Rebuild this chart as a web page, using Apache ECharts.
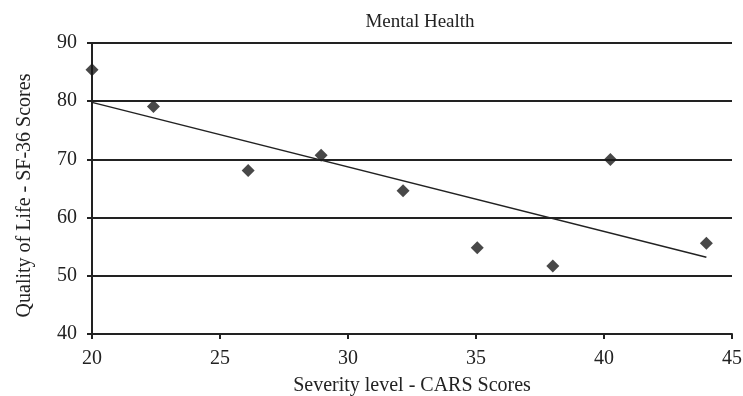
<!DOCTYPE html>
<html><head><meta charset="utf-8">
<script src="https://cdn.jsdelivr.net/npm/echarts@6/dist/echarts.min.js"></script>
<style>html,body{margin:0;padding:0;background:#fff}#c{width:743px;height:396px}</style>
</head><body><div id="c"></div>
<script>
var cars = [20.0, 22.4, 26.1, 28.95, 32.15, 35.05, 38.0, 40.25, 44.0];
var sf36 = [85.4, 79.1, 68.1, 70.7, 64.6, 54.8, 51.7, 70.0, 55.6];
var trendX = [20, 44];
var trendY = [79.8, 53.2];
var title = 'Mental Health';
var xName = 'Severity level - CARS Scores';
var yName = 'Quality of Life - SF-36 Scores';

var font = 'Liberation Serif';
var chart = echarts.init(document.getElementById('c'));
chart.setOption({
  animation: false,
  backgroundColor: '#fff',
  title: {text: title, left: 415, top: 8, textAlign: 'center',
    textStyle: {fontFamily: font, fontSize: 19, fontWeight: 'normal', color: '#222'}},
  grid: {left: 92, right: 11, top: 43, bottom: 62, containLabel: false, outerBoundsMode: 'none'},
  xAxis: {type: 'value', min: 20, max: 45, interval: 5,
    name: xName, nameLocation: 'middle', nameGap: 42,
    nameTextStyle: {fontFamily: font, fontSize: 20, color: '#222'},
    axisLine: {show: true, lineStyle: {color: '#222', width: 2}},
    axisTick: {show: true, length: 5, inside: false, lineStyle: {color: '#222', width: 2}},
    axisLabel: {fontFamily: font, fontSize: 20, color: '#222', margin: 15},
    splitLine: {show: false}},
  yAxis: {type: 'value', min: 40, max: 90, interval: 10,
    name: yName, nameLocation: 'middle', nameGap: 57, nameRotate: 90,
    nameTextStyle: {fontFamily: font, fontSize: 20, color: '#222', padding: [0, 14, 0, 0]},
    axisLine: {show: true, lineStyle: {color: '#222', width: 2}},
    axisTick: {show: true, length: 5, lineStyle: {color: '#222', width: 2}},
    axisLabel: {fontFamily: font, fontSize: 20, color: '#222', margin: 15},
    splitLine: {show: true, lineStyle: {color: '#222', width: 2}}},
  series: [
    {type: 'line', data: trendX.map(function(x, i){return [x, trendY[i]];}),
      symbol: 'none', lineStyle: {color: '#222', width: 1.5}, z: 3},
    {type: 'scatter', data: cars.map(function(x, i){return [x, sf36[i]];}),
      symbol: 'diamond', symbolSize: 13, itemStyle: {color: '#1a1a1a'}, z: 4}
  ]
});
</script></body></html>
